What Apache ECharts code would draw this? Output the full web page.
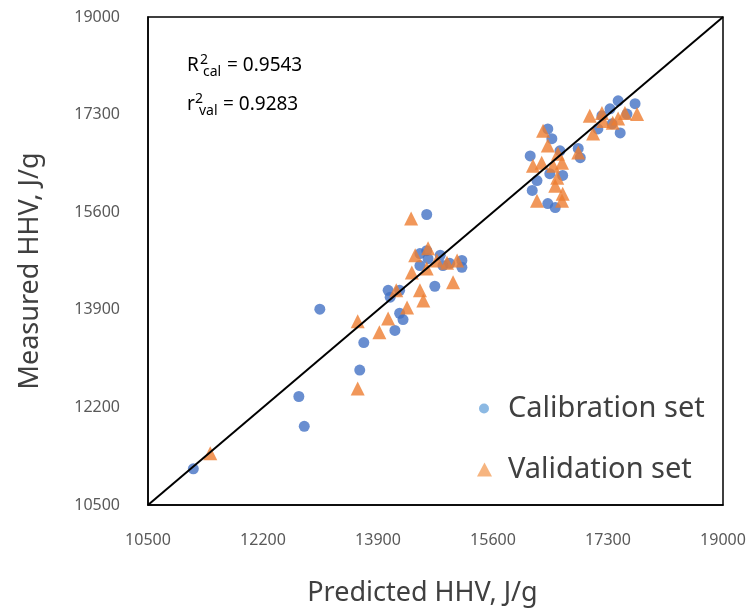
<!DOCTYPE html>
<html><head><meta charset="utf-8">
<script src="https://cdn.jsdelivr.net/npm/echarts@6/dist/echarts.min.js"></script>
<style>html,body{margin:0;padding:0;background:#fff}#c{width:755px;height:612px}</style>
</head><body><div id="c"></div>
<script>
const axisMin = 10500, axisMax = 19000;
const tickValues = [10500, 12200, 13900, 15600, 17300, 19000];

const calPredicted = [11170,12730,12810,13040,13630,13690,14150,14270,14220,14050,14080,14220,14620,14740,14520,14640,14820,14960,15140,15140,14520,14860,14620,
  16410,16470,16150,16590,16250,16180,16440,16630,16410,16520,16860,16890,17150,17210,17330,17450,17480,17360,17700,17580];
const calMeasured  = [11130,12390,11870,13910,12850,13330,13540,13730,13840,14240,14120,14240,15560,14310,14880,14790,14850,14710,14760,14640,14670,14670,14930,
  17050,16880,16580,16670,16150,15980,16270,16240,15750,15680,16710,16550,17050,17280,17400,17540,16980,17140,17490,17310];

const valPredicted = [11420,13600,13600,13920,14050,14330,14170,14390,14450,14640,14770,14920,15070,14400,14620,15010,14520,14570,
  16340,16410,16560,16190,16320,16490,16620,16550,16520,16630,16620,16250,16860,17080,17030,17210,17230,17370,17450,17730,17550];
const valMeasured  = [11400,12530,13700,13510,13750,13940,14240,15490,14850,14970,14760,14720,14760,14550,14620,14380,14240,14060,
  17020,16760,16620,16410,16460,16410,16460,16200,16060,15920,15800,15800,16640,16970,17280,17330,17190,17160,17230,17310,17330];

const diagonal = [[axisMin, axisMin], [axisMax, axisMax]];
const zip = (a, b) => a.map((v, i) => [v, b[i]]);

const FONT = 'Noto Sans';
const chart = echarts.init(document.getElementById('c'));
const axisCommon = {
  type: 'value', min: axisMin, max: axisMax,
  axisLine: { show: true, lineStyle: { color: '#000', width: 1.5 } },
  axisTick: { show: false },
  splitLine: { show: false },
  nameLocation: 'middle'
};
const labelCommon = { customValues: tickValues, color: '#595959', fontSize: 16, fontFamily: FONT, formatter: v => String(v) };
const txt = (text, left, top, size) => ({ type: 'text', left, top, style: { text, fontSize: size, fontFamily: FONT, fill: '#000' } });
chart.setOption({
  animation: false,
  grid: { left: 148, right: 32, top: 17, bottom: 107, show: true, borderColor: '#000', borderWidth: 1.5 },
  xAxis: Object.assign({}, axisCommon, {
    name: 'Predicted HHV, J/g', nameGap: 75,
    nameTextStyle: { color: '#404040', fontSize: 27, fontFamily: FONT, padding: [0, 26, 0, 0] },
    axisLabel: Object.assign({}, labelCommon, { margin: 27 })
  }),
  yAxis: Object.assign({}, axisCommon, {
    name: 'Measured HHV, J/g', nameGap: 104,
    nameTextStyle: { color: '#404040', fontSize: 27, fontFamily: FONT, padding: [0, 20, 0, 0] },
    axisLabel: Object.assign({}, labelCommon, { margin: 28 })
  }),
  legend: [
    { data: [{ name: 'Calibration set', icon: 'circle', itemStyle: { color: '#6FA8DC' } }],
      left: 474, top: 389, itemWidth: 10, itemHeight: 10, itemGap: 0,
      textStyle: { color: '#404040', fontSize: 29, fontFamily: FONT, padding: [0, 0, 0, 14] } },
    { data: [{ name: 'Validation set', icon: 'triangle', itemStyle: { color: '#F4A15F' } }],
      left: 472, top: 450, itemWidth: 15, itemHeight: 14, itemGap: 0,
      textStyle: { color: '#404040', fontSize: 29, fontFamily: FONT, padding: [0, 0, 0, 11] } }
  ],
  graphic: [
    txt('R', 187, 56, 19), txt('2', 200, 53, 14), txt('cal', 203, 65, 14), txt('= 0.9543', 227, 56, 19),
    txt('r', 187, 95, 19), txt('2', 195, 92, 14), txt('val', 199, 104, 14), txt('= 0.9283', 223, 95, 19)
  ],
  series: [
    { name: 'Calibration set', type: 'scatter', symbol: 'circle', symbolSize: 11,
      itemStyle: { color: '#4472C4' }, data: zip(calPredicted, calMeasured), z: 2 },
    { name: 'Validation set', type: 'scatter', symbol: 'triangle', symbolSize: 14,
      itemStyle: { color: '#ED7D31' }, data: zip(valPredicted, valMeasured), z: 3 },
    { name: 'Line', type: 'line', data: diagonal, symbol: 'none', silent: true,
      lineStyle: { color: '#000', width: 2 }, z: 4 }
  ]
});
</script></body></html>
